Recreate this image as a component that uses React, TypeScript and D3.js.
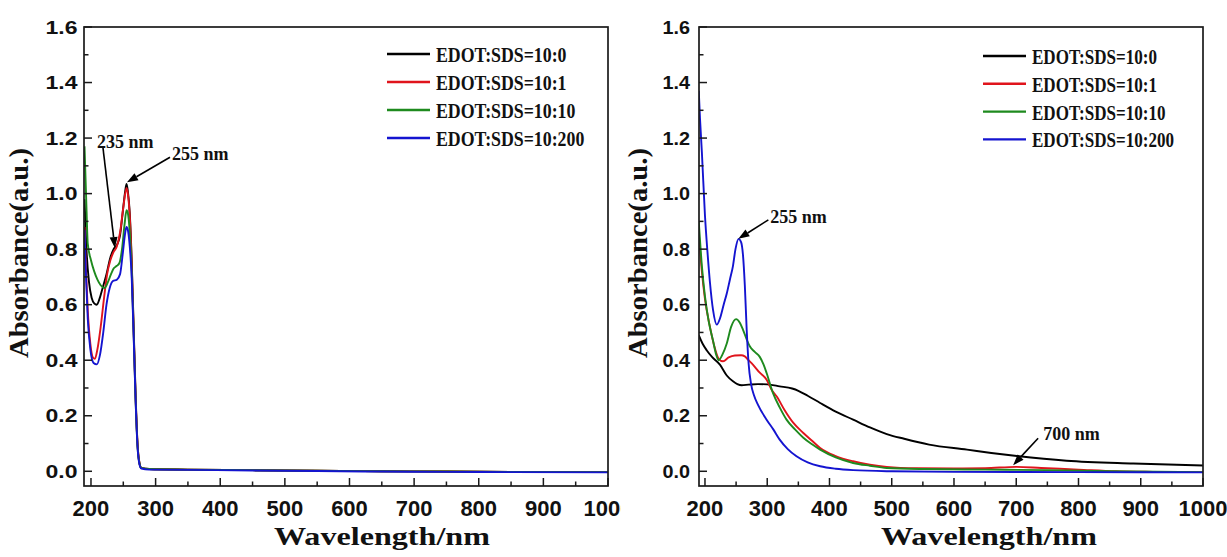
import React from "react";
import * as d3 from "d3";

type Pt = [number, number];

// ---------- data ----------
const seriesLabels = ["EDOT:SDS=10:0", "EDOT:SDS=10:1", "EDOT:SDS=10:10", "EDOT:SDS=10:200"];
const xTickValues = [200, 300, 400, 500, 600, 700, 800, 900, 1000];
const xMinorValues = [250, 350, 450, 550, 650, 750, 850, 950];
const yTickValues = [0, 0.2, 0.4, 0.6, 0.8, 1.0, 1.2, 1.4, 1.6];
const yMinorValues = [0.1, 0.3, 0.5, 0.7, 0.9, 1.1, 1.3, 1.5];
const yTickLabels = ["0.0", "0.2", "0.4", "0.6", "0.8", "1.0", "1.2", "1.4", "1.6"];
const xAxisTitle = "Wavelength/nm";
const yAxisTitle = "Absorbance(a.u.)";

// Left panel
const leftBlack: Pt[] = [
  [190, 0.98], [193, 0.8], [197, 0.68], [201, 0.625], [205, 0.605], [209, 0.6], [213, 0.62], [218, 0.66],
  [224, 0.71], [230, 0.77], [235, 0.8], [240, 0.815], [245, 0.85], [249, 0.93], [253, 1.01], [255, 1.035],
  [257, 1.01], [260, 0.93], [263, 0.76], [266, 0.52], [269, 0.28], [272, 0.1], [275, 0.03], [278, 0.012],
  [290, 0.008], [350, 0.006], [450, 0.004], [550, 0.002], [650, 0.0], [750, -0.001], [850, -0.002], [1000, -0.003],
];
const leftRed: Pt[] = [
  [190, 0.88], [192, 0.74], [195, 0.58], [199, 0.46], [203, 0.41], [206, 0.405], [210, 0.44], [215, 0.52],
  [220, 0.62], [225, 0.71], [230, 0.76], [235, 0.79], [240, 0.81], [245, 0.86], [250, 0.95], [255, 1.02],
  [257, 1.0], [260, 0.92], [263, 0.75], [266, 0.51], [269, 0.27], [272, 0.1], [275, 0.03], [278, 0.012],
  [290, 0.008], [350, 0.006], [450, 0.004], [550, 0.002], [650, 0.0], [750, -0.001], [850, -0.002], [1000, -0.003],
];
const leftGreen: Pt[] = [
  [190, 1.17], [193, 0.95], [195, 0.82], [200, 0.76], [205, 0.72], [210, 0.69], [215, 0.67], [221, 0.66],
  [226, 0.68], [231, 0.71], [235, 0.73], [240, 0.74], [244, 0.75], [248, 0.8], [252, 0.89], [255, 0.94],
  [257, 0.93], [260, 0.86], [263, 0.72], [266, 0.5], [269, 0.26], [272, 0.09], [275, 0.028], [278, 0.012],
  [290, 0.008], [350, 0.006], [450, 0.004], [550, 0.002], [650, 0.0], [750, -0.001], [850, -0.002], [1000, -0.003],
];
const leftBlue: Pt[] = [
  [190, 0.87], [192, 0.72], [195, 0.55], [199, 0.44], [204, 0.39], [209, 0.385], [214, 0.42], [219, 0.5],
  [224, 0.6], [229, 0.66], [234, 0.685], [240, 0.69], [245, 0.71], [249, 0.78], [253, 0.86], [255, 0.88],
  [257, 0.87], [260, 0.81], [263, 0.7], [266, 0.49], [269, 0.26], [272, 0.09], [275, 0.025], [278, 0.01],
  [290, 0.006], [350, 0.005], [450, 0.003], [550, 0.001], [650, -0.001], [750, -0.002], [850, -0.003], [1000, -0.004],
];

// Right panel
const rightBlack: Pt[] = [
  [190, 0.49], [196, 0.46], [203, 0.435], [212, 0.41], [224, 0.384], [235, 0.345], [245, 0.324], [252, 0.314],
  [259, 0.31], [270, 0.312], [285, 0.314], [300, 0.313], [320, 0.306], [340, 0.298], [350, 0.29], [365, 0.272],
  [385, 0.246], [410, 0.215], [438, 0.186], [465, 0.158], [492, 0.134], [520, 0.117], [560, 0.096], [621, 0.078],
  [660, 0.066], [701, 0.055], [781, 0.038], [888, 0.028], [1000, 0.021],
];
const rightRed: Pt[] = [
  [190, 0.86], [195, 0.72], [200, 0.62], [208, 0.52], [215, 0.45], [222, 0.405], [229, 0.396], [238, 0.41],
  [248, 0.417], [258, 0.418], [264, 0.414], [270, 0.4], [277, 0.384], [288, 0.355], [299, 0.33], [308, 0.29],
  [315, 0.27], [328, 0.22], [342, 0.174], [358, 0.138], [372, 0.11], [385, 0.084], [410, 0.055], [438, 0.036],
  [465, 0.024], [492, 0.016], [540, 0.011], [600, 0.01], [650, 0.011], [700, 0.016], [740, 0.012], [800, 0.006],
  [860, 0.0], [920, -0.002], [1000, -0.003],
];
const rightGreen: Pt[] = [
  [190, 0.9], [195, 0.74], [200, 0.63], [206, 0.54], [213, 0.47], [218, 0.42], [222, 0.4], [228, 0.42],
  [235, 0.46], [242, 0.52], [250, 0.548], [256, 0.535], [261, 0.51], [267, 0.475], [272, 0.45], [280, 0.43],
  [288, 0.412], [294, 0.385], [299, 0.354], [309, 0.283], [320, 0.23], [331, 0.186], [345, 0.15], [358, 0.121],
  [372, 0.097], [385, 0.078], [410, 0.05], [438, 0.03], [465, 0.02], [492, 0.012], [550, 0.008], [650, 0.006],
  [750, 0.004], [850, 0.0], [1000, -0.003],
];
const rightBlue: Pt[] = [
  [190, 1.37], [192, 1.27], [195, 1.15], [200, 0.92], [204, 0.79], [208, 0.68], [213, 0.58], [219, 0.528],
  [224, 0.55], [230, 0.6], [235, 0.64], [240, 0.69], [245, 0.74], [249, 0.8], [254, 0.837], [258, 0.825],
  [261, 0.78], [264, 0.67], [267, 0.51], [270, 0.39], [274, 0.315], [279, 0.272], [285, 0.24], [299, 0.186],
  [310, 0.15], [320, 0.114], [333, 0.08], [347, 0.054], [365, 0.032], [385, 0.018], [410, 0.009], [438, 0.004],
  [500, 0.0], [600, -0.002], [800, -0.003], [1000, -0.004],
];

const leftSeries = [leftBlack, leftRed, leftGreen, leftBlue];
const rightSeries = [rightBlack, rightRed, rightGreen, rightBlue];

// annotations: label, target wavelength, target absorbance
const leftAnnotLabels = ["235 nm", "255 nm"];
const leftAnnotTargets: Pt[] = [[237, 0.804], [255.7, 1.041]];
const rightAnnotLabels = ["255 nm", "700 nm"];
const rightAnnotTargets: Pt[] = [[253.6, 0.837], [695, 0.022]];

// ---------- styles ----------
const colors = ["#000000", "#e0141c", "#1e8a1e", "#1414d0"];
const SANS = "'Liberation Sans', Arial, Helvetica, sans-serif";
const SERIF = "'Liberation Serif', 'Times New Roman', serif";

type PanelProps = {
  frame: { l: number; r: number; t: number; b: number };
  xDomain: [number, number];
  series: Pt[][];
  annotLabels: string[];
  annotTargets: Pt[];
  annotTail: Pt[];
  annotText: Pt[];
  legend: { x1: number; x2: number; tx: number; y0: number; dy: number; sx: number };
  yLabelGap: number;
  yLabelWidth: number;
  xTitleX: number;
  yTitleX: number;
  clipId: string;
};

function Arrow({ tx, ty, hx, hy }: { tx: number; ty: number; hx: number; hy: number }) {
  const ang = Math.atan2(hy - ty, hx - tx);
  const len = 11;
  const half = 4;
  const bx = hx - len * Math.cos(ang);
  const by = hy - len * Math.sin(ang);
  const px = -Math.sin(ang) * half;
  const py = Math.cos(ang) * half;
  return (
    <g>
      <line x1={tx} y1={ty} x2={bx} y2={by} stroke="#000" strokeWidth={1.6} />
      <polygon points={`${hx},${hy} ${bx + px},${by + py} ${bx - px},${by - py}`} fill="#000" />
    </g>
  );
}

function Panel(p: PanelProps) {
  const { frame } = p;
  const x = d3.scaleLinear().domain(p.xDomain).range([frame.l, frame.r]);
  const y = d3.scaleLinear().domain([-0.053, 1.6]).range([frame.b, frame.t]);
  const line = d3
    .line<Pt>()
    .x((d) => x(d[0]))
    .y((d) => y(d[1]))
    .curve(d3.curveMonotoneX);
  const plotClip = p.clipId + "-plot";
  return (
    <g>
      <defs>
        <clipPath id={plotClip}>
          <rect x={frame.l} y={frame.t} width={frame.r - frame.l} height={frame.b - frame.t} />
        </clipPath>
      </defs>
      <g clipPath={`url(#${plotClip})`}>
        {p.series.map((s, i) => (
          <path key={i} d={line(s) || ""} fill="none" stroke={colors[i]} strokeWidth={1.9} strokeLinejoin="round" />
        ))}
      </g>
      <rect
        x={frame.l}
        y={frame.t}
        width={frame.r - frame.l}
        height={frame.b - frame.t}
        fill="none"
        stroke="#1a1a1a"
        strokeWidth={1.7}
      />
      {xTickValues.map((v) => (
        <line key={"xt" + v} x1={x(v)} x2={x(v)} y1={frame.b} y2={frame.b - 8} stroke="#1a1a1a" strokeWidth={1.5} />
      ))}
      {xMinorValues.map((v) => (
        <line key={"xm" + v} x1={x(v)} x2={x(v)} y1={frame.b} y2={frame.b - 4.5} stroke="#1a1a1a" strokeWidth={1.5} />
      ))}
      {xTickValues.map((v) => (
        <text
          key={"xl" + v}
          x={x(v)}
          y={515.5}
          textAnchor="middle"
          fontFamily={SANS}
          fontWeight="bold"
          fontSize={22}
          fill="#111"
        >
          {v}
        </text>
      ))}
      {yTickValues.map((v) => (
        <line key={"yt" + v} x1={frame.l} x2={frame.l + 8} y1={y(v)} y2={y(v)} stroke="#1a1a1a" strokeWidth={1.5} />
      ))}
      {yMinorValues.map((v) => (
        <line key={"ym" + v} x1={frame.l} x2={frame.l + 4.5} y1={y(v)} y2={y(v)} stroke="#1a1a1a" strokeWidth={1.5} />
      ))}
      {yTickValues.map((v, i) => (
        <text
          key={"yl" + v}
          x={frame.l - p.yLabelGap}
          y={y(v)}
          dy="0.36em"
          textAnchor="end"
          fontFamily={SANS}
          fontWeight="bold"
          fontSize={18.5}
          textLength={p.yLabelWidth}
          lengthAdjust="spacingAndGlyphs"
          fill="#111"
        >
          {yTickLabels[i]}
        </text>
      ))}
      <text
        x={p.xTitleX}
        y={544.5}
        fontFamily={SERIF}
        fontWeight="bold"
        fontSize={26}
        textLength={216}
        lengthAdjust="spacingAndGlyphs"
        fill="#111"
      >
        {xAxisTitle}
      </text>
      <text
        transform={`translate(${p.yTitleX},253) rotate(-90)`}
        textAnchor="middle"
        fontFamily={SERIF}
        fontWeight="bold"
        fontSize={28}
        textLength={210}
        lengthAdjust="spacingAndGlyphs"
        fill="#111"
      >
        {yAxisTitle}
      </text>
      {seriesLabels.map((lab, i) => {
        const yy = p.legend.y0 + i * p.legend.dy;
        return (
          <g key={"lg" + i}>
            <line x1={p.legend.x1} x2={p.legend.x2} y1={yy} y2={yy} stroke={colors[i]} strokeWidth={2.4} />
            <text
              transform={`translate(${p.legend.tx},${yy + 8}) scale(${p.legend.sx},1)`}
              fontFamily={SERIF}
              fontWeight="bold"
              fontSize={22}
              fill="#111"
            >
              {lab}
            </text>
          </g>
        );
      })}
      {p.annotLabels.map((lab, i) => {
        const hx = x(p.annotTargets[i][0]);
        const hy = y(p.annotTargets[i][1]);
        return (
          <g key={"an" + i}>
            <Arrow tx={hx + p.annotTail[i][0]} ty={hy + p.annotTail[i][1]} hx={hx} hy={hy} />
            <text
              x={hx + p.annotText[i][0]}
              y={hy + p.annotText[i][1]}
              fontFamily={SERIF}
              fontWeight="bold"
              fontSize={18}
              fill="#111"
            >
              {lab}
            </text>
          </g>
        );
      })}
    </g>
  );
}

export default function App() {
  return (
    <svg
      width={1227}
      height={557}
      viewBox="0 0 1227 557"
      style={{ position: "absolute", left: 0, top: 0, background: "#fff" }}
    >
      <rect x={0} y={0} width={1227} height={557} fill="#fff" />
      <defs>
        <clipPath id="leftPanelClip">
          <rect x={0} y={0} width={621} height={557} />
        </clipPath>
      </defs>
      <g clipPath="url(#leftPanelClip)">
        <Panel
          clipId="lp"
          frame={{ l: 84, r: 608, t: 27, b: 486 }}
          xDomain={[189.2, 1000]}
          series={leftSeries}
          annotLabels={leftAnnotLabels}
          annotTargets={leftAnnotTargets}
          annotTail={[[-12, -101], [43, -25]]}
          annotText={[[-18, -100], [45, -22]]}
          legend={{ x1: 387, x2: 430, tx: 436, y0: 54, dy: 28, sx: 0.81 }}
          yLabelGap={6.5}
          yLabelWidth={32}
          xTitleX={274}
          yTitleX={28}
        />
      </g>
      <Panel
        clipId="rp"
        frame={{ l: 699, r: 1203, t: 27, b: 486 }}
        xDomain={[190.4, 1000]}
        series={rightSeries}
        annotLabels={rightAnnotLabels}
        annotTargets={rightAnnotTargets}
        annotTail={[[30, -19], [25, -27]]}
        annotText={[[32, -16], [30, -25]]}
        legend={{ x1: 983, x2: 1026, tx: 1032, y0: 56, dy: 27.8, sx: 0.775 }}
        yLabelGap={9}
        yLabelWidth={27.5}
        xTitleX={881}
        yTitleX={647}
      />
    </svg>
  );
}
